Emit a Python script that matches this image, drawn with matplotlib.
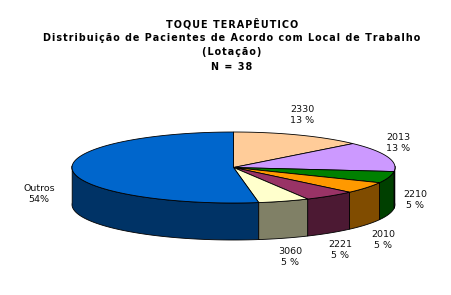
import numpy as np
import matplotlib
matplotlib.use("Agg")
import matplotlib.pyplot as plt

categories = ["2330", "2013", "2210", "2010", "2221", "3060", "Outros"]
percents = [13, 13, 5, 5, 5, 5, 54]
top_colors = ["#FFCC99", "#CC99FF", "#008000", "#FF9900", "#993366", "#FFFFCC", "#0066CC"]
side_colors = ["#806650", "#664C80", "#004000", "#804C00", "#4C1933", "#808066", "#003366"]
title_lines = ["TOQUE TERAPÊUTICO",
               "Distribuição de Pacientes de Acordo com Local de Trabalho",
               "(Lotação)",
               "N = 38"]

CX, CY, A, B, DEPTH = 233.5, 167.5, 161.5, 35.5, 37
title_y = [24, 38, 52, 67]
label_pos = {"2330": (302, 115), "2013": (398, 143), "2210": (415, 200), "2010": (383, 240),
             "2221": (340, 250), "3060": (290, 257), "Outros": (39, 194)}

fig = plt.figure(figsize=(4.52, 2.95), dpi=100, facecolor="white")
ax = fig.add_axes([0, 0, 1, 1])
ax.set_xlim(0, 452)
ax.set_ylim(295, 0)
ax.axis("off")


def warp(d):
    return d + 5.5 * (1 - np.cos(np.radians(d))) / 2


def rim(d, drop=0.0):
    t = np.radians(warp(d))
    return CX + A * np.sin(t), CY - B * np.cos(t) + drop


edges = np.concatenate([[0], np.cumsum(percents)]) / np.sum(percents) * 360

# side walls: only the front half of the rim shows
order = sorted(range(len(percents)), key=lambda i: -abs(((edges[i] + edges[i + 1]) / 2) - 180))
for i in order:
    a0, a1 = max(edges[i], 85), min(edges[i + 1], 270)
    if a1 <= a0:
        continue
    d = np.linspace(a0, a1, 120)
    xt, yt = rim(d)
    xb, yb = rim(d, DEPTH)
    ax.fill(np.r_[xt, xb[::-1]], np.r_[yt, yb[::-1]], fc=side_colors[i], ec="black", lw=0.6, zorder=2)

# top faces
for i in range(len(percents)):
    d = np.linspace(edges[i], edges[i + 1], 200)
    x, y = rim(d)
    ax.fill(np.r_[CX, x], np.r_[CY, y], fc=top_colors[i], ec="black", lw=0.6, zorder=3)

for i, (line, y) in enumerate(zip(title_lines, title_y)):
    ax.text(232, y, "\u200a".join(line), ha="center", va="center", fontsize=6.9, fontweight="bold",
            family="DejaVu Sans", color="black")

for c, p in zip(categories, percents):
    x, y = label_pos[c]
    ax.text(x, y, f"{c}\n{p} %" if c != "Outros" else f"{c}\n{p}%", ha="center", va="center",
            fontsize=6.8, family="DejaVu Sans", color="#111111", linespacing=1.15)

fig.savefig("out.png", dpi=100, facecolor="white")
